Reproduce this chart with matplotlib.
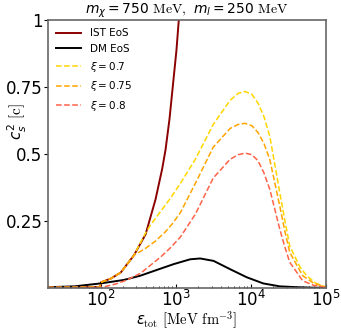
import matplotlib
matplotlib.use('Agg')
import matplotlib.pyplot as plt
import numpy as np

plt.rcParams['mathtext.fontset'] = 'custom'
plt.rcParams['mathtext.rm'] = 'DejaVu Sans'
plt.rcParams['mathtext.it'] = 'DejaVu Sans:italic'
plt.rcParams['mathtext.bf'] = 'DejaVu Sans:bold'
plt.rcParams['mathtext.sf'] = 'cmr10'   # serif units, as in the original

# energy density [MeV fm^-3] and squared sound speed [c]
e_ist = [20, 60, 98, 101, 137, 186, 278, 397, 538, 661, 731, 826, 1021, 1096, 1230]
cs_ist = [0.002, 0.003, 0.004, 0.021, 0.035, 0.058, 0.122, 0.2, 0.33, 0.445, 0.515, 0.63, 0.885, 0.996, 1.15]

e_dm = [20, 45, 100, 205, 340, 570, 940, 1560, 2120, 3190, 5300, 8800, 14600, 24300, 40400, 70000, 100000]
cs_dm = [0.003, 0.006, 0.017, 0.030, 0.046, 0.068, 0.089, 0.107, 0.110, 0.101, 0.070, 0.040, 0.017, 0.006, 0.003, 0.001, 0.0004]

e_x07 = [20, 60, 98, 101, 137, 186, 278, 397, 462, 628, 851, 1153, 1824, 3155, 5297, 6790, 8356, 10330,
         12420, 14900, 17900, 24270, 28200, 32890, 44630, 55190, 72600, 100000]
cs_x07 = [0.002, 0.003, 0.004, 0.021, 0.035, 0.058, 0.122, 0.205, 0.235, 0.285, 0.335, 0.39, 0.48, 0.61, 0.70, 0.726, 0.733, 0.722,
          0.69, 0.64, 0.565, 0.355, 0.255, 0.157, 0.08, 0.046, 0.018, 0.003]

e_x075 = [20, 60, 98, 101, 137, 186, 278, 397, 538, 731, 904, 1153, 1824, 3155, 5297, 6790, 8356, 10330,
          12420, 14900, 17900, 24270, 28200, 32890, 48930, 68250, 100000]
cs_x075 = [0.002, 0.003, 0.004, 0.021, 0.035, 0.058, 0.122, 0.148, 0.175, 0.21, 0.24, 0.281, 0.39, 0.525, 0.595, 0.61, 0.614, 0.605,
           0.58, 0.54, 0.478, 0.305, 0.215, 0.133, 0.046, 0.018, 0.003]

e_x08 = [20, 60, 98, 101, 118, 160, 216, 341, 462, 628, 851, 1153, 1824, 3155, 5297, 6790, 8356, 10330,
         12420, 14900, 17900, 24270, 28200, 32890, 48930, 68250, 100000]
cs_x08 = [0.002, 0.002, 0.002, 0.003, 0.006, 0.015, 0.028, 0.055, 0.085, 0.115, 0.15, 0.19, 0.275, 0.41, 0.48, 0.497, 0.503, 0.497,
          0.475, 0.43, 0.367, 0.219, 0.155, 0.096, 0.027, 0.01, 0.002]

fig = plt.figure(figsize=(3.41, 3.31), dpi=100)
ax = fig.add_axes([0.141, 0.13, 0.815, 0.81])

ax.plot(e_ist, cs_ist, color='#8b0000', lw=1.4, label='IST EoS')
ax.plot(e_dm, cs_dm, color='black', lw=1.4, label='DM EoS')
ax.plot(e_x07, cs_x07, color='gold', lw=1.1, ls='--', label=r'$\xi = 0.7$')
ax.plot(e_x075, cs_x075, color='orange', lw=1.1, ls='--', label=r'$\xi = 0.75$')
ax.plot(e_x08, cs_x08, color='tomato', lw=1.1, ls='--', label=r'$\xi = 0.8$')

ax.set_xscale('log')
ax.set_xlim(20, 1e5)
ax.set_ylim(0, 1)
ax.set_yticks([0.25, 0.5, 0.75, 1])
ax.set_yticklabels(['0.25', '0.5', '0.75', '1'])
ax.tick_params(axis='x', which='both', direction='in', labelsize=12, pad=1.5)
ax.tick_params(axis='x', which='major', length=3)
ax.tick_params(axis='x', which='minor', length=1.5)
ax.tick_params(axis='y', direction='out', length=3, labelsize=12, pad=1)
for s in ax.spines.values():
    s.set_color('#666666')
    s.set_linewidth(1.2)

ax.set_title(r'$m_\chi = 750\ \mathsf{MeV,}\ m_l = 250\ \mathsf{MeV}$', fontsize=10, pad=1.5)
ax.set_xlabel(r'$\varepsilon_{\mathsf{tot}}\ \mathsf{[MeV\ fm^{-3}]}$', fontsize=10.5)
ax.set_ylabel(r'$c_s^2\ \mathsf{[c]}$', fontsize=11)
ax.xaxis.set_label_coords(0.5, -0.08)
ax.yaxis.set_label_coords(-0.07, 0.62)

ax.legend(loc='upper left', frameon=False, fontsize=7.5, handlelength=2.4,
          handletextpad=0.8, labelspacing=0.55, borderaxespad=0.4)

fig.savefig('out.png', dpi=100)
